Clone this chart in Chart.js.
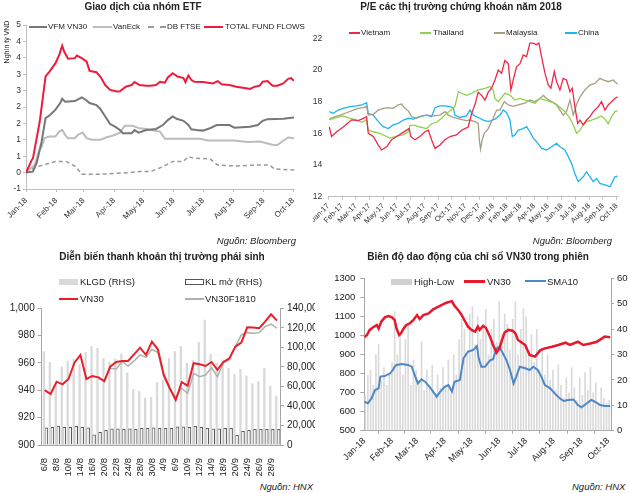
<!DOCTYPE html>
<html>
<head>
<meta charset="utf-8">
<script src="https://cdn.jsdelivr.net/npm/chart.js@4.4.1/dist/chart.umd.min.js"></script>
<style>
  body { margin: 0; background: #fff; }
  #page { position: relative; width: 630px; height: 493px; overflow: hidden; font-family: "Liberation Sans", Arial, sans-serif; color: #222; }
  #page canvas { position: absolute; }
  .t { position: absolute; font-weight: bold; font-size: 10px; line-height: 12px; white-space: nowrap; transform: translateX(-50%); }
  .src { position: absolute; font-style: italic; font-size: 9.5px; line-height: 11px; white-space: nowrap; }
  .lg { position: absolute; font-size: 8px; line-height: 10px; white-space: nowrap; }
  .lg2 { position: absolute; font-size: 9.5px; line-height: 11px; white-space: nowrap; }
  .ln { position: absolute; height: 0; }
  .bx { position: absolute; box-sizing: border-box; }
</style>
</head>
<body>
<div id="page">
  <canvas id="etf" width="313" height="230" style="left:0;top:0"></canvas>
  <canvas id="pe" width="317" height="230" style="left:313px;top:0"></canvas>
  <canvas id="deriv" width="315" height="235" style="left:0;top:245px"></canvas>
  <canvas id="range" width="315" height="235" style="left:315px;top:245px"></canvas>

  <div class="t" style="left:143px;top:1px">Giao dịch của nhóm ETF</div>
  <div class="t" style="left:461px;top:1px">P/E các thị trường chứng khoán năm 2018</div>
  <div class="t" style="left:162px;top:251px">Diễn biến thanh khoản thị trường phái sinh</div>
  <div class="t" style="left:478px;top:251px">Biên độ dao động của chỉ số VN30 trong phiên</div>

  <div style="position:absolute;left:6px;top:42px;font-size:7px;white-space:nowrap;transform:translate(-50%,-50%) rotate(-90deg)">Nghìn tỷ VND</div>

  <span class="ln" style="left:29px;top:26px;width:18px;border-top:2px solid #777"></span>
  <span class="lg" style="left:48px;top:22px">VFM VN30</span>
  <span class="ln" style="left:93px;top:26px;width:19px;border-top:2px solid #bcbcbc"></span>
  <span class="lg" style="left:113px;top:22px">VanEck</span>
  <span class="ln" style="left:148px;top:26px;width:18px;border-top:2px dashed #999"></span>
  <span class="lg" style="left:167px;top:22px">DB FTSE</span>
  <span class="ln" style="left:204px;top:26px;width:19px;border-top:2px solid #ee1c3a"></span>
  <span class="lg" style="left:225px;top:22px">TOTAL FUND FLOWS</span>

  <span class="ln" style="left:349px;top:32px;width:11px;border-top:2px solid #f0284a"></span>
  <span class="lg" style="left:361px;top:28px">Vietnam</span>
  <span class="ln" style="left:420px;top:32px;width:11px;border-top:2px solid #8fd14f"></span>
  <span class="lg" style="left:433px;top:28px">Thailand</span>
  <span class="ln" style="left:494px;top:32px;width:11px;border-top:2px solid #a69f80"></span>
  <span class="lg" style="left:506px;top:28px">Malaysia</span>
  <span class="ln" style="left:565px;top:32px;width:12px;border-top:2px solid #1eb4f0"></span>
  <span class="lg" style="left:578px;top:28px">China</span>

  <span class="bx" style="left:59px;top:279px;width:19px;height:6px;background:#d9d9d9"></span>
  <span class="lg2" style="left:80px;top:276px">KLGD (RHS)</span>
  <span class="bx" style="left:185px;top:279px;width:19px;height:6px;border:1px solid #555;background:#fff"></span>
  <span class="lg2" style="left:205px;top:276px">KL mở (RHS)</span>
  <span class="ln" style="left:59px;top:298px;width:19px;border-top:2px solid #e8202a"></span>
  <span class="lg2" style="left:80px;top:293px">VN30</span>
  <span class="ln" style="left:185px;top:298px;width:19px;border-top:2px solid #b0b0b0"></span>
  <span class="lg2" style="left:205px;top:293px">VN30F1810</span>

  <span class="bx" style="left:391px;top:279px;width:21px;height:6px;background:#d0d0d0"></span>
  <span class="lg2" style="left:414px;top:276px">High-Low</span>
  <span class="ln" style="left:464px;top:280px;width:21px;border-top:3px solid #e8182c"></span>
  <span class="lg2" style="left:487px;top:276px">VN30</span>
  <span class="ln" style="left:525px;top:280px;width:21px;border-top:2px solid #4f88c6"></span>
  <span class="lg2" style="left:547px;top:276px">SMA10</span>

  <div class="src" style="right:334px;top:235px">Nguồn: Bloomberg</div>
  <div class="src" style="right:18px;top:235px">Nguồn: Bloomberg</div>
  <div class="src" style="right:317px;top:481px">Nguồn: HNX</div>
  <div class="src" style="left:572px;top:481px">Nguồn: HNX</div>
</div>

<script>
// ---- ETF flows 2018 (x = days since 1 Jan 2018, y = thousand bn VND)
var monthDays18 = [0, 31, 59, 90, 120, 151, 181, 212, 243, 273];
var monthLabels18 = ['Jan-18', 'Feb-18', 'Mar-18', 'Apr-18', 'May-18', 'Jun-18', 'Jul-18', 'Aug-18', 'Sep-18', 'Oct-18'];

var totDays = [0, 6, 7, 14, 20, 24, 30, 34, 37, 39, 43, 50, 52, 57, 62, 65, 72, 76, 81, 86, 93, 96, 102, 108, 111, 116, 123, 127, 133, 137, 142, 145, 150, 155, 161, 163, 166, 169, 172, 181, 191, 196, 200, 208, 215, 225, 229, 234, 239, 242, 247, 252, 257, 263, 268, 271, 274];
var totVals = [0, 0.39, 0.42, 1.55, 2.93, 3.08, 3.33, 3.59, 3.87, 3.69, 3.47, 3.49, 3.57, 3.49, 3.38, 3.1, 3.06, 2.93, 2.67, 2.52, 2.47, 2.48, 2.62, 2.67, 2.76, 2.67, 2.65, 2.65, 2.67, 2.77, 2.74, 2.9, 3.03, 2.93, 2.88, 2.76, 2.96, 2.83, 2.77, 2.76, 2.72, 2.79, 2.69, 2.67, 2.62, 2.57, 2.55, 2.62, 2.65, 2.77, 2.79, 2.65, 2.65, 2.72, 2.86, 2.88, 2.8];
var vfmDays = [0, 7, 11, 16, 20, 24, 30, 35, 37, 40, 50, 57, 62, 65, 72, 76, 81, 86, 91, 96, 99, 108, 111, 115, 123, 133, 140, 145, 150, 154, 161, 166, 169, 174, 181, 188, 195, 208, 213, 229, 237, 242, 247, 263, 274];
var vfmVals = [0, 0.03, 0.3, 0.95, 1.66, 1.74, 1.91, 2.12, 2.25, 2.16, 2.18, 2.29, 2.2, 2.12, 2.06, 1.94, 1.71, 1.48, 1.4, 1.3, 1.2, 1.2, 1.3, 1.22, 1.3, 1.33, 1.45, 1.6, 1.71, 1.64, 1.58, 1.45, 1.32, 1.3, 1.28, 1.35, 1.45, 1.45, 1.37, 1.4, 1.45, 1.58, 1.63, 1.64, 1.68];
var vanDays = [0, 9, 13, 16, 19, 24, 30, 34, 37, 40, 43, 50, 53, 58, 62, 67, 76, 82, 89, 96, 101, 109, 116, 123, 127, 137, 142, 154, 178, 186, 212, 227, 239, 252, 257, 263, 268, 274];
var vanVals = [0, 0.23, 0.64, 0.79, 1.05, 1.1, 1.1, 1.25, 1.3, 1.15, 1.05, 1.05, 1.15, 1.22, 1.05, 1.0, 1.0, 1.07, 1.13, 1.22, 1.43, 1.43, 1.35, 1.33, 1.3, 1.25, 1.03, 1.03, 1.03, 0.98, 0.98, 0.93, 0.95, 0.85, 0.84, 0.97, 1.07, 1.05];
var dbDays = [0, 11, 18, 24, 30, 41, 46, 51, 57, 76, 106, 116, 127, 140, 150, 161, 166, 171, 188, 196, 215, 235, 249, 254, 274];
var dbVals = [0, 0.18, 0.23, 0.29, 0.34, 0.34, 0.26, 0.18, -0.05, -0.05, 0, 0.03, 0.03, 0.18, 0.34, 0.34, 0.49, 0.44, 0.42, 0.23, 0.2, 0.23, 0.23, 0.11, 0.08];

// ---- P/E (x = months since Jan 2017)
var peMonths = ['Jan-17', 'Feb-17', 'Mar-17', 'Apr-17', 'May-17', 'Jun-17', 'Jul-17', 'Aug-17', 'Sep-17', 'Oct-17', 'Nov-17', 'Dec-17', 'Jan-18', 'Feb-18', 'Mar-18', 'Apr-18', 'May-18', 'Jun-18', 'Jul-18', 'Aug-18', 'Sep-18', 'Oct-18'];
var vnX = [0.07, 0.24, 0.61, 1.09, 1.70, 2.18, 2.55, 2.79, 2.91, 3.28, 3.64, 3.88, 4.25, 4.61, 4.98, 5.34, 5.70, 5.90, 6.0, 6.31, 6.67, 7.04, 7.28, 7.52, 7.77, 8.13, 8.50, 8.86, 9.34, 9.71, 9.95, 10.19, 10.44, 10.68, 10.92, 11.17, 11.41, 11.65, 11.89, 12.14, 12.38, 12.62, 12.86, 13.11, 13.30, 13.47, 13.71, 13.96, 14.20, 14.44, 14.68, 14.93, 15.17, 15.34, 15.53, 15.78, 16.02, 16.21, 16.46, 16.63, 16.87, 17.11, 17.35, 17.60, 17.77, 17.96, 18.16, 18.33, 18.57, 18.81, 19.05, 19.30, 19.66, 19.90, 20.15, 20.39, 20.63, 20.87, 21.07];
var vnY = [16.4, 15.8, 16.1, 16.4, 16.85, 16.8, 16.95, 17.05, 16.0, 15.8, 15.26, 14.95, 15.15, 15.6, 15.8, 16.0, 16.2, 16.3, 15.8, 15.6, 15.8, 16.1, 16.2, 15.6, 15.05, 15.26, 15.6, 15.8, 15.9, 16.2, 16.3, 16.4, 17.26, 17.8, 18.6, 18.4, 18.1, 18.6, 18.85, 19.37, 20.0, 19.8, 20.6, 20.4, 18.74, 19.37, 20.2, 20.4, 20.95, 20.84, 21.7, 21.7, 21.6, 21.7, 20.84, 19.8, 19.05, 18.85, 19.9, 19.26, 18.74, 19.47, 19.37, 18.63, 18.85, 17.68, 16.63, 16.84, 16.53, 16.84, 17.05, 17.37, 17.68, 18.0, 17.47, 17.79, 18.0, 18.2, 18.3];
var thX = [0.07, 0.61, 1.09, 1.58, 2.06, 2.43, 2.79, 2.91, 3.28, 3.76, 4.25, 4.49, 4.98, 5.46, 5.83, 5.95, 6.31, 6.67, 7.16, 7.52, 7.89, 8.25, 8.62, 8.98, 9.22, 9.47, 9.71, 10.07, 10.44, 10.92, 11.41, 11.77, 12.01, 12.14, 12.38, 12.86, 13.23, 13.59, 13.96, 14.32, 14.68, 15.05, 15.41, 15.78, 16.14, 16.50, 16.87, 17.23, 17.60, 17.84, 18.08, 18.33, 18.57, 18.81, 19.17, 19.54, 19.90, 20.15, 20.39, 20.63, 20.87, 21.07];
var thY = [16.85, 17.0, 17.1, 16.95, 16.85, 16.7, 16.85, 16.2, 16.1, 16.0, 15.8, 15.7, 15.83, 15.9, 16.1, 16.5, 16.5, 16.4, 16.3, 16.6, 16.7, 16.95, 17.26, 17.5, 17.68, 18.63, 18.53, 18.4, 18.53, 18.74, 18.84, 18.95, 18.74, 18.2, 18.0, 18.53, 18.42, 18.1, 18.2, 18.1, 18.0, 17.9, 18.2, 18.1, 18.0, 17.9, 17.64, 17.37, 16.95, 16.53, 16.0, 16.2, 16.53, 16.74, 16.84, 16.95, 17.1, 16.9, 16.6, 17.05, 17.37, 17.42];
var myX = [0.07, 0.49, 0.85, 1.33, 1.82, 2.18, 2.55, 2.79, 2.91, 3.28, 3.64, 4.00, 4.37, 4.73, 5.10, 5.34, 5.58, 5.83, 6.07, 6.43, 6.80, 7.16, 7.65, 8.13, 8.50, 8.74, 9.10, 9.59, 10.07, 10.32, 10.68, 10.92, 11.00, 11.09, 11.21, 11.36, 11.65, 12.01, 12.26, 12.50, 12.82, 13.11, 13.47, 13.83, 14.32, 14.68, 15.05, 15.41, 15.66, 15.90, 16.26, 16.63, 16.87, 17.11, 17.35, 17.60, 17.84, 18.08, 18.33, 18.69, 19.05, 19.42, 19.78, 20.02, 20.39, 20.75, 21.07];
var myY = [16.9, 17.05, 17.15, 17.3, 17.47, 17.58, 17.62, 17.7, 17.15, 17.2, 17.47, 17.58, 17.62, 17.58, 17.8, 17.85, 17.58, 17.42, 17.05, 16.95, 17.1, 17.15, 17.1, 17.15, 17.37, 17.15, 17.0, 16.9, 16.8, 16.84, 16.74, 16.63, 15.6, 15.0, 15.6, 16.0, 16.3, 16.95, 17.47, 17.47, 18.0, 17.8, 17.7, 17.8, 17.9, 18.1, 18.0, 18.2, 18.4, 18.2, 18.0, 17.8, 17.47, 17.15, 17.37, 18.1, 17.15, 17.8, 18.3, 18.74, 19.05, 19.15, 19.47, 19.37, 19.26, 19.37, 19.1];
var cnX = [0.07, 0.36, 0.73, 1.09, 1.58, 2.06, 2.43, 2.79, 2.91, 3.28, 3.64, 4.00, 4.37, 4.73, 5.10, 5.46, 5.83, 6.19, 6.67, 7.16, 7.52, 7.77, 8.13, 8.50, 8.86, 9.10, 9.22, 9.59, 10.07, 10.32, 10.56, 10.92, 11.29, 11.65, 12.14, 12.50, 12.74, 12.99, 13.23, 13.40, 13.59, 13.83, 14.20, 14.44, 14.68, 14.93, 15.17, 15.53, 15.90, 16.26, 16.63, 16.87, 17.23, 17.48, 17.72, 17.96, 18.20, 18.57, 18.81, 19.05, 19.30, 19.54, 19.78, 20.15, 20.51, 20.70, 20.87, 21.07];
var cnY = [17.37, 17.26, 17.47, 17.58, 17.68, 17.73, 17.79, 17.94, 17.26, 17.15, 16.74, 16.42, 16.3, 16.53, 16.63, 16.84, 16.95, 16.9, 17.05, 17.15, 17.05, 17.62, 17.73, 17.73, 17.68, 17.62, 17.15, 17.0, 17.1, 17.47, 17.15, 17.0, 16.84, 16.74, 16.9, 17.15, 17.47, 17.3, 16.84, 15.8, 15.9, 16.2, 16.3, 16.42, 16.1, 15.7, 15.47, 15.05, 14.95, 15.15, 15.37, 15.15, 14.95, 14.53, 14.1, 13.47, 12.95, 13.26, 13.58, 13.26, 12.95, 13.15, 12.84, 12.74, 12.63, 12.95, 13.26, 13.3];

// ---- derivatives liquidity (daily, 6/8 - 1/10)
var dvDates = ['6/8', '7/8', '8/8', '9/8', '10/8', '13/8', '14/8', '15/8', '16/8', '17/8', '20/8', '21/8', '22/8', '23/8', '24/8', '27/8', '28/8', '29/8', '30/8', '31/8', '4/9', '5/9', '6/9', '7/9', '10/9', '11/9', '12/9', '13/9', '14/9', '17/9', '18/9', '19/9', '20/9', '21/9', '24/9', '25/9', '26/9', '27/9', '28/9', '1/10'];
var klgd = [95600, 84700, 62000, 80000, 86000, 88000, 82000, 95000, 100700, 99000, 88800, 85000, 88000, 93000, 74000, 57000, 55000, 48000, 48500, 64000, 66600, 88800, 95600, 100700, 83700, 87000, 104800, 128000, 92900, 83700, 87000, 78500, 72700, 77500, 70700, 63000, 65000, 78500, 60400, 50000];
var klMo = [17500, 18000, 19500, 18000, 18000, 19000, 18000, 17500, 10500, 13000, 15000, 16500, 16500, 16000, 16500, 16000, 17000, 17000, 17500, 17000, 17000, 17000, 18500, 18500, 18000, 19000, 18000, 17000, 16500, 16500, 17000, 17000, 10000, 14000, 15000, 16000, 16000, 16000, 16000, 16000];
var vn30 = [940.2, 937.3, 946.3, 944.4, 948.3, 960.2, 965.9, 948.3, 950.5, 949.5, 946.8, 957.3, 960.7, 961.5, 961.5, 966.3, 971.2, 965.9, 975.6, 970.0, 951.2, 941.5, 932.9, 945.9, 943.4, 959.8, 959.0, 957.8, 960.7, 954.9, 960.7, 963.4, 972.0, 974.9, 986.1, 985.9, 985.4, 990.2, 995.6, 991.0];
var vn30f = [null, null, null, null, null, null, null, null, null, 950.0, 946.3, 956.1, 955.6, 961.0, 957.8, 961.5, 965.9, 964.1, 970.0, 967.6, 950.0, 940.7, 934.9, 941.5, 937.8, 952.4, 950.0, 951.2, 956.6, 950.0, 960.2, 962.2, 972.0, 980.5, 982.2, 981.7, 982.2, 986.6, 988.5, 985.4];

// ---- VN30 intraday range 2018 (x = days since 1 Jan 2018)
var idxDays = [0, 3, 6, 10, 14, 16, 19, 23, 27, 31, 34, 36, 39, 41, 44, 47, 51, 55, 59, 62, 66, 72, 77, 83, 88, 92, 98, 101, 105, 109, 113, 116, 120, 124, 127, 129, 133, 136, 141, 144, 148, 151, 154, 157, 161, 166, 169, 172, 180, 185, 191, 197, 202, 210, 217, 225, 230, 239, 245, 253, 260, 269, 275];
var idxVals = [990, 1002, 1029, 1043, 1055, 1037, 1072, 1095, 1102, 1095, 1081, 1037, 1002, 1011, 1037, 1055, 1064, 1081, 1107, 1086, 1107, 1116, 1137, 1151, 1163, 1172, 1180, 1155, 1134, 1107, 1072, 1046, 1029, 1020, 1046, 1029, 1050, 1040, 990, 950, 910, 930, 976, 1015, 1029, 1025, 1011, 976, 950, 897, 889, 923, 932, 941, 950, 962, 950, 967, 950, 958, 967, 994, 990];
var smaDays = [0, 4, 8, 12, 16, 18, 23, 29, 32, 34, 36, 42, 49, 53, 57, 60, 64, 68, 73, 77, 81, 85, 90, 94, 98, 101, 107, 111, 116, 122, 126, 128, 131, 135, 141, 144, 148, 151, 156, 159, 163, 167, 170, 174, 180, 185, 189, 194, 198, 202, 208, 213, 219, 223, 228, 234, 239, 243, 249, 254, 258, 264, 269, 275];
var smaVals = [11.4, 10.8, 12.7, 16.0, 16.7, 21.3, 21.5, 22.6, 23.9, 25.2, 25.9, 26.3, 25.9, 25.2, 21.3, 18.6, 20.2, 19.3, 17.3, 15.4, 13.4, 15.4, 17.3, 18.0, 15.4, 19.3, 20.0, 28.5, 31.1, 31.8, 33.3, 28.5, 25.2, 25.2, 27.8, 28.1, 32.4, 33.1, 29.8, 27.8, 23.9, 18.6, 21.3, 25.2, 24.6, 23.9, 25.2, 23.9, 21.3, 18.0, 16.7, 14.7, 12.7, 11.7, 12.1, 12.3, 10.1, 9.2, 10.8, 12.1, 11.4, 10.1, 9.7, 9.7];
var hlDays = [1, 4, 7, 10, 13, 16, 19, 22, 25, 28, 31, 34, 37, 40, 43, 46, 49, 52, 55, 58, 61, 64, 67, 70, 73, 76, 79, 82, 85, 88, 91, 94, 97, 100, 103, 106, 109, 112, 115, 118, 121, 124, 127, 130, 133, 136, 139, 142, 145, 148, 151, 154, 157, 160, 163, 166, 169, 172, 175, 178, 181, 184, 187, 190, 193, 196, 199, 202, 205, 208, 211, 214, 217, 220, 223, 226, 229, 232, 235, 238, 241, 244, 247, 250, 253, 256, 259, 262, 265, 268, 271, 274];
var hlVals = [14, 22, 24, 18, 30, 34, 20, 25, 18, 23, 27, 47, 30, 38, 22, 36, 42, 18, 28, 24, 20, 35, 16, 24, 18, 26, 14, 22, 17, 25, 18, 28, 15, 30, 22, 36, 44, 40, 30, 46, 49, 34, 45, 36, 42, 48, 30, 40, 44, 35, 51, 38, 46, 42, 32, 44, 51, 30, 40, 48, 45, 30, 38, 27, 40, 24, 32, 22, 30, 20, 24, 16, 26, 18, 13, 21, 15, 25, 17, 12, 21, 14, 23, 16, 25, 15, 19, 11, 17, 13, 11, 12];

Chart.defaults.font.family = '"Liberation Sans", Arial, sans-serif';
Chart.defaults.color = '#333';
Chart.defaults.animation = false;
Chart.defaults.plugins.legend.display = false;
Chart.defaults.plugins.tooltip.enabled = false;
Chart.defaults.elements.point.radius = 0;
Chart.defaults.elements.line.tension = 0;

function pts(xs, ys) {
    var out = [];
    for (var i = 0; i < Math.min(xs.length, ys.length); i++) out.push({ x: xs[i], y: ys[i] });
    return out;
}
// fixed axis sizes so each plot area lands where the picture has it
function fixW(w) { return function(s) { s.width = w; s.paddingTop = 0; s.paddingBottom = 0; }; }
function fixH(h) { return function(s) { s.height = h; s.paddingLeft = 0; s.paddingRight = 0; }; }
function axisLine(c, len) {
    return {
        border: { display: true, color: c },
        grid: { display: true, drawOnChartArea: false, drawTicks: len > 0, tickLength: len, color: c }
    };
}
function monthTicks(vals) { return function(s) { s.ticks = vals.map(function(v) { return { value: v }; }); }; }

new Chart(document.getElementById('etf'), {
    type: 'line',
    data: { datasets: [
        { data: pts(totDays, totVals), borderColor: '#ee1c3a', borderWidth: 2 },
        { data: pts(vfmDays, vfmVals), borderColor: '#777', borderWidth: 2 },
        { data: pts(vanDays, vanVals), borderColor: '#bcbcbc', borderWidth: 2 },
        { data: pts(dbDays, dbVals), borderColor: '#999', borderWidth: 1.5, borderDash: [4, 3] }
    ] },
    options: {
        responsive: false,
        layout: { padding: { top: 25, right: 19, left: 0, bottom: 0 } },
        scales: {
            x: Object.assign({
                type: 'linear', min: 0, max: 274,
                afterBuildTicks: monthTicks(monthDays18), afterFit: fixH(41),
                ticks: { autoSkip: false, minRotation: 45, maxRotation: 45, padding: 4, font: { size: 8 },
                    callback: function(v) { return monthLabels18[monthDays18.indexOf(v)]; } }
            }, axisLine('#bfbfbf', 3)),
            y: Object.assign({
                min: -0.5, max: 4.5, afterFit: fixW(26),
                ticks: { stepSize: 0.5, padding: 2, font: { size: 8.5 },
                    callback: function(v) { return Math.sign(v) * Math.round(Math.abs(v)); } }
            }, axisLine('#bfbfbf', 3))
        }
    }
});

new Chart(document.getElementById('pe'), {
    type: 'line',
    data: { datasets: [
        { data: pts(vnX, vnY), borderColor: '#f0284a', borderWidth: 1.3 },
        { data: pts(thX, thY), borderColor: '#8fd14f', borderWidth: 1.3 },
        { data: pts(myX, myY), borderColor: '#a69f80', borderWidth: 1.3 },
        { data: pts(cnX, cnY), borderColor: '#1eb4f0', borderWidth: 1.3 }
    ] },
    options: {
        responsive: false,
        layout: { padding: { top: 38.3, right: 12, left: 0, bottom: 0 } },
        scales: {
            x: Object.assign({
                type: 'linear', min: 0, max: 21.1,
                afterBuildTicks: monthTicks(peMonths.map(function(m, i) { return i; })), afterFit: fixH(33.3),
                ticks: { autoSkip: false, minRotation: 45, maxRotation: 45, padding: 2, font: { size: 7.5 },
                    callback: function(v) { return peMonths[v]; } }
            }, axisLine('#bfbfbf', 3)),
            y: {
                min: 12, max: 22, afterFit: fixW(15.3),
                border: { display: false }, grid: { display: false, drawTicks: false },
                ticks: { stepSize: 2, padding: 6, font: { size: 8.5 } }
            }
        }
    }
});

new Chart(document.getElementById('deriv'), {
    type: 'bar',
    data: {
        labels: dvDates,
        datasets: [
            { type: 'line', data: vn30, borderColor: '#e8202a', borderWidth: 2, yAxisID: 'y', order: 0 },
            { type: 'line', data: vn30f, borderColor: '#b0b0b0', borderWidth: 1.5, yAxisID: 'y', order: 1 },
            { data: klgd, backgroundColor: '#d9d9d9', barThickness: 1.6, yAxisID: 'y1', order: 2 },
            { data: klMo, backgroundColor: '#f4f4f4', borderColor: '#555', borderWidth: 1, barThickness: 3.2, yAxisID: 'y1', order: 3 }
        ]
    },
    options: {
        responsive: false,
        layout: { padding: { top: 63.3, right: 0, left: 0, bottom: 0 } },
        scales: {
            x: {
                afterFit: fixH(35),
                border: { display: true, color: '#a6a6a6' }, grid: { display: false },
                ticks: { autoSkip: false, minRotation: 90, maxRotation: 90, padding: 5, font: { size: 9.5 }, color: '#222',
                    callback: function(v, i) { return i % 2 === 0 ? dvDates[i] : ''; } }
            },
            y: Object.assign({
                position: 'left', min: 900, max: 1000, afterFit: fixW(41.7),
                ticks: { stepSize: 10, padding: 3, font: { size: 10 }, color: '#222',
                    callback: function(v) { return v.toLocaleString('en-US'); } }
            }, axisLine('#a6a6a6', 4)),
            y1: Object.assign({
                position: 'right', min: 0, max: 140000, afterFit: fixW(35),
                ticks: { stepSize: 20000, padding: 3, font: { size: 10 }, color: '#222',
                    callback: function(v) { return v.toLocaleString('en-US'); } }
            }, axisLine('#a6a6a6', 4))
        }
    }
});

new Chart(document.getElementById('range'), {
    type: 'line',
    data: { datasets: [
        { data: pts(idxDays, idxVals), borderColor: '#e8182c', borderWidth: 2.5, yAxisID: 'y', order: 0 },
        { data: pts(smaDays, smaVals), borderColor: '#4f88c6', borderWidth: 2, yAxisID: 'y1', order: 1 },
        { type: 'bar', data: pts(hlDays, hlVals), backgroundColor: '#d9d9d9', categoryPercentage: 1, barPercentage: 0.6, yAxisID: 'y1', order: 2 }
    ] },
    options: {
        responsive: false,
        layout: { padding: { top: 33.3, right: 0, left: 0, bottom: 0 } },
        scales: {
            x: Object.assign({
                type: 'linear', min: 0, max: 276, offset: false,
                afterBuildTicks: monthTicks(monthDays18), afterFit: fixH(49.3),
                ticks: { autoSkip: false, minRotation: 45, maxRotation: 45, padding: 2, font: { size: 9 }, color: '#222',
                    callback: function(v) { return monthLabels18[monthDays18.indexOf(v)]; } }
            }, axisLine('#a6a6a6', 3)),
            y: Object.assign({
                position: 'left', min: 500, max: 1300, afterFit: fixW(49.3),
                ticks: { stepSize: 100, padding: 5, font: { size: 9.5 }, color: '#222',
                    callback: function(v) { return String(v); } }
            }, axisLine('#a6a6a6', 4)),
            y1: Object.assign({
                position: 'right', min: 0, max: 60, afterFit: fixW(19),
                ticks: { stepSize: 10, padding: 3, font: { size: 9.5 }, color: '#222' }
            }, axisLine('#a6a6a6', 3))
        }
    }
});
</script>
</body>
</html>
